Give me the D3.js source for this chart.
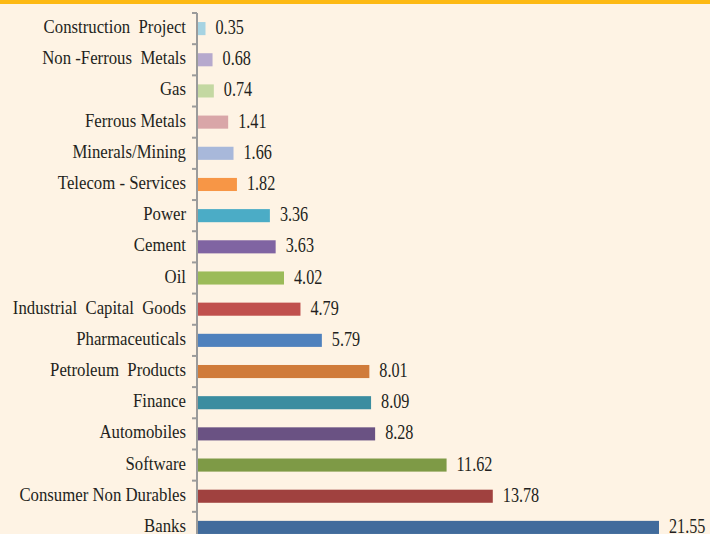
<!DOCTYPE html>
<html>
<head>
<meta charset="utf-8">
<script src="https://cdn.jsdelivr.net/npm/d3@7"></script>
<style>
  html, body { margin: 0; padding: 0; background: #fef3e4; }
  svg { display: block; }
  text { font-family: "Liberation Serif", "DejaVu Serif", serif; fill: #231f20; }
</style>
</head>
<body>
<div id="chart"></div>
<script>
var categories = ["Construction  Project", "Non -Ferrous  Metals", "Gas", "Ferrous Metals",
  "Minerals/Mining", "Telecom - Services", "Power", "Cement", "Oil",
  "Industrial  Capital  Goods", "Pharmaceuticals", "Petroleum  Products", "Finance",
  "Automobiles", "Software", "Consumer Non Durables", "Banks"]
var values = [0.35, 0.68, 0.74, 1.41, 1.66, 1.82, 3.36, 3.63, 4.02, 4.79, 5.79, 8.01, 8.09, 8.28, 11.62, 13.78, 21.55]
var colors = ["#a6d3e2", "#b6a9cd", "#c4d8a2", "#d9a6a8", "#a8b8da", "#f79646", "#4bacc6", "#8064a2",
  "#9bbb59", "#c0504d", "#4f81bd", "#d07b3a", "#3b8da0", "#6a5283", "#7e9a46", "#a0413f", "#416b9c"]

var w = 710
var h = 534
var axisX = 197

var svg = d3.select("#chart")
  .append("svg")
  .attr("width", w)
  .attr("height", h)

svg.append("rect")
  .attr("width", w)
  .attr("height", h)
  .attr("fill", "#fef3e4")

// orange strip at the top
svg.append("rect")
  .attr("x", 0)
  .attr("y", 0)
  .attr("width", w)
  .attr("height", 4)
  .attr("fill", "#fdb913")

var y = d3.scaleBand()
  .domain(categories)
  .range([13, 543])
  .paddingInner(0.58)
  .paddingOuter(0.29)

var x = d3.scaleLinear()
  .domain([0, 21.55])
  .range([axisX + 1, 659])

// axis line with ticks between categories
svg.append("line")
  .attr("x1", axisX)
  .attr("x2", axisX)
  .attr("y1", 13)
  .attr("y2", h)
  .attr("stroke", "#9b9b9b")
  .attr("stroke-width", 2)

svg.selectAll(".tick")
  .data(d3.range(categories.length + 1))
  .enter()
  .append("line")
  .attr("class", "tick")
  .attr("x1", axisX - 5)
  .attr("x2", axisX)
  .attr("y1", function(d){ return y.range()[0] + d * y.step() })
  .attr("y2", function(d){ return y.range()[0] + d * y.step() })
  .attr("stroke", "#9b9b9b")
  .attr("stroke-width", 2)

svg.selectAll(".bar")
  .data(values)
  .enter()
  .append("rect")
  .attr("class", "bar")
  .attr("x", x(0))
  .attr("y", function(d, i){ return y(categories[i]) })
  .attr("width", function(d){ return x(d) - x(0) })
  .attr("height", y.bandwidth())
  .attr("fill", function(d, i){ return colors[i] })

var center = function(i){
  return y(categories[i]) + y.bandwidth() / 2
}

svg.selectAll(".cat")
  .data(categories)
  .enter()
  .append("text")
  .attr("class", "cat")
  .attr("text-anchor", "end")
  .attr("font-size", "19.5px")
  .attr("transform", function(d, i){
    return "translate(186," + (center(i) + 4.5) + ") scale(0.86,1)"
  })
  .style("white-space", "pre")
  .text(function(d){ return d })

svg.selectAll(".val")
  .data(values)
  .enter()
  .append("text")
  .attr("class", "val")
  .attr("font-size", "20px")
  .attr("transform", function(d, i){
    return "translate(" + (x(d) + 10) + "," + (center(i) + 5.5) + ") scale(0.81,1)"
  })
  .text(function(d){ return d.toFixed(2) })
</script>
</body>
</html>
